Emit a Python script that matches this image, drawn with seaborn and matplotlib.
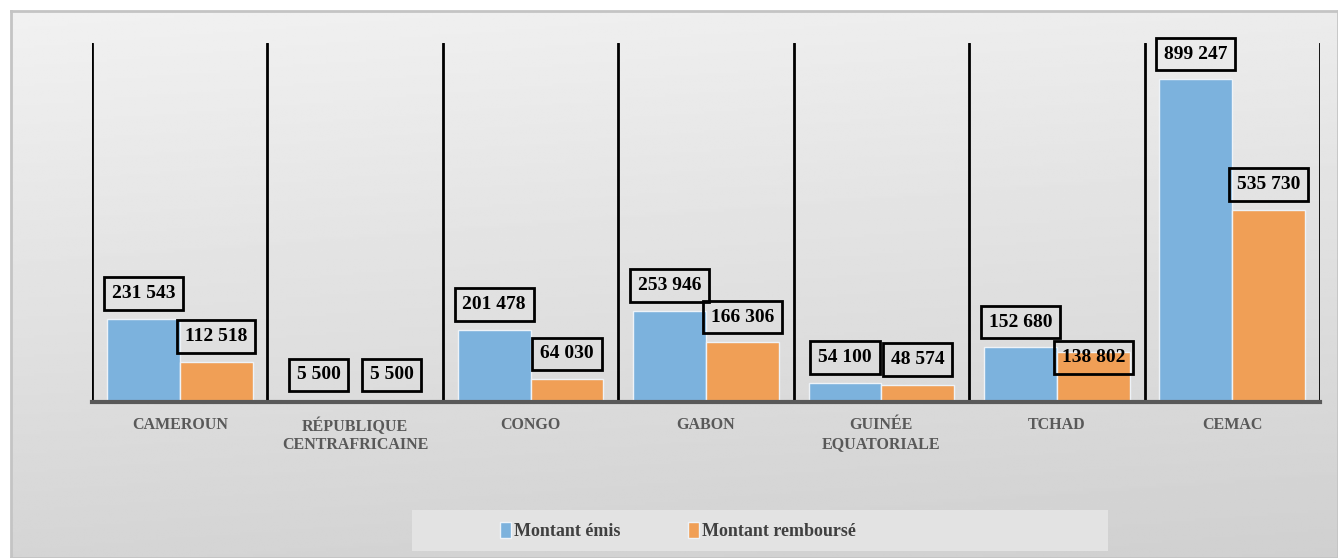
import numpy as np
import pandas as pd
import seaborn as sns
import matplotlib.pyplot as plt
from matplotlib.patches import Rectangle, Patch

pays = ['CAMEROUN', 'RÉPUBLIQUE\nCENTRAFRICAINE', 'CONGO', 'GABON',
        'GUINÉE\nEQUATORIALE', 'TCHAD', 'CEMAC']
montant_emis = [231543, 5500, 201478, 253946, 54100, 152680, 899247]
montant_rembourse = [112518, 5500, 64030, 166306, 48574, 138802, 535730]
series = ['Montant émis', 'Montant remboursé']

BLUE = '#7cb2dd'
ORANGE = '#f09f56'
SERIF = ['Liberation Serif', 'DejaVu Serif']

df = pd.DataFrame({
    'Pays': pays * 2,
    'Montant': montant_emis + montant_rembourse,
    'Série': [series[0]] * len(pays) + [series[1]] * len(pays),
})

sns.set_style('white')
plt.rcParams['font.family'] = SERIF

W, H = 1338, 558
fig = plt.figure(figsize=(W / 100, H / 100), dpi=100)

# gradient background with grey frame
bg = fig.add_axes([11 / W, 0, 1 - 11 / W, 1 - 11 / H], zorder=-10)
yy, xx = np.mgrid[0:1:200j, 0:1:200j]
grad = 0.945 - 0.11 * yy - 0.02 * xx
bg.imshow(grad, cmap='gray', vmin=0, vmax=1, aspect='auto', extent=(0, 1, 0, 1))
bg.set_xticks([])
bg.set_yticks([])
for s in bg.spines.values():
    s.set_color('#c4c4c4')
    s.set_linewidth(2)

# legend background box
fig.patches.append(Rectangle((412 / W, 1 - 551 / H), 696 / W, 41 / H,
                             transform=fig.transFigure, facecolor='#e3e3e3',
                             edgecolor='none', zorder=-5))

ax = fig.add_axes([92 / W, 1 - 402 / H, (1320 - 92) / W, (402 - 43) / H])
ax.set_facecolor('none')
sns.barplot(data=df, x='Pays', y='Montant', hue='Série', palette=[BLUE, ORANGE],
            saturation=1, width=0.83, edgecolor='#eef3f8', linewidth=1,
            legend=False, ax=ax)
ax.set_xlim(-0.5, len(pays) - 0.5)
ax.set_ylim(0, 1000000)

for i in range(len(pays) + 1):
    ax.axvline(i - 0.5, color='black', lw=2, zorder=1)

for s in ['top', 'left', 'right']:
    ax.spines[s].set_visible(False)
ax.spines['bottom'].set_color('#595959')
ax.spines['bottom'].set_linewidth(3)
ax.set_yticks([])
ax.set_xlabel('')
ax.set_ylabel('')
ax.tick_params(axis='x', length=0, pad=11)
for lab in ax.get_xticklabels():
    lab.set_fontweight('bold')
    lab.set_fontsize(11.5)
    lab.set_color('#595959')
    lab.set_linespacing(1.2)

nudge = {(5, 1): -22}
for k, cont in enumerate(ax.containers):
    for i, bar in enumerate(cont):
        val = bar.get_height()
        x = bar.get_x() + bar.get_width() / 2
        ax.annotate(f'{int(val):,}'.replace(',', ' '), (x, val),
                    xytext=(0, 12 + nudge.get((i, k), 0)), textcoords='offset points',
                    ha='center', va='bottom', fontsize=14, fontweight='bold',
                    color='black', zorder=5,
                    bbox=dict(boxstyle='square,pad=0.4', facecolor='none',
                              edgecolor='black', linewidth=2))

# legend entries placed like the original
for name, col, xpos in zip(series, [BLUE, ORANGE], [500, 688]):
    leg = fig.legend([Patch(facecolor=col, edgecolor='#eef3f8')], [name],
                     loc='center left', bbox_to_anchor=(xpos / W, 1 - 531 / H),
                     frameon=False, handlelength=0.6, handleheight=1.0,
                     handletextpad=0.2, borderpad=0, borderaxespad=0,
                     prop=dict(family=SERIF, weight='bold', size=13))
    leg.get_texts()[0].set_color('#404040')

fig.savefig('out.png', dpi=100)
